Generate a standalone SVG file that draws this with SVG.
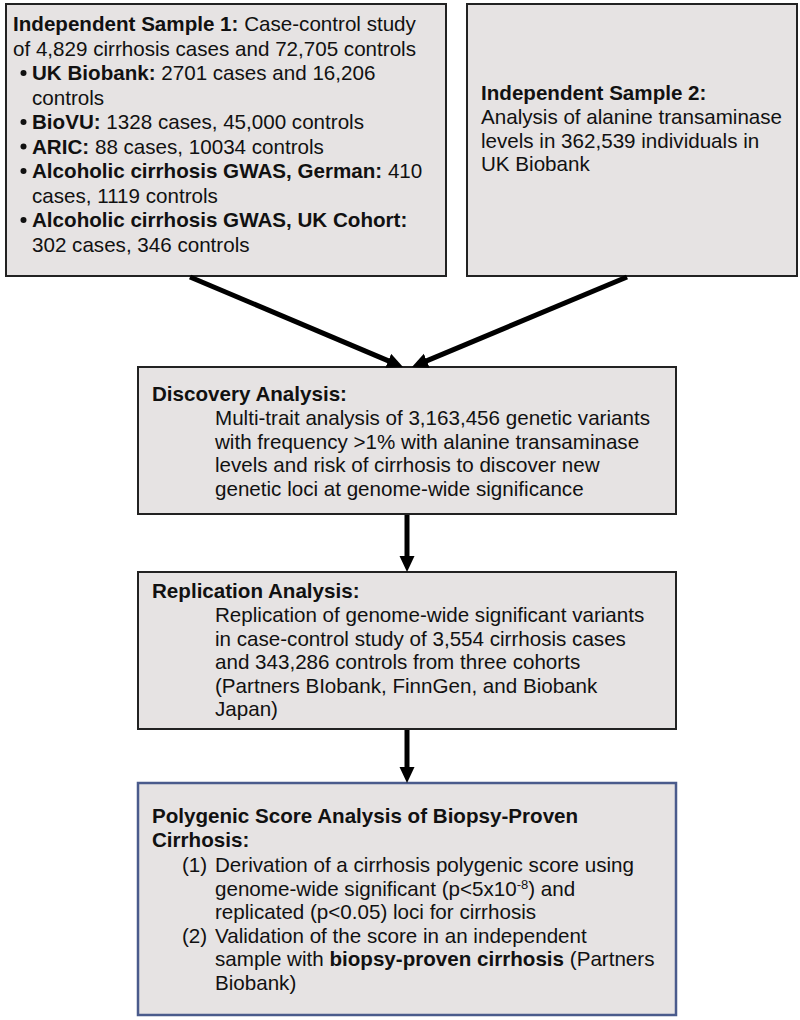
<svg xmlns="http://www.w3.org/2000/svg" width="800" height="1020" viewBox="0 0 800 1020">
<style>
.box{fill:#e6e3e3;stroke:#222;stroke-width:2}
.blue{fill:#e6e3e3;stroke:#4a5b8c;stroke-width:2.5}
text{font-family:"Liberation Sans",Arial,sans-serif;font-size:20.6px;fill:#111}
.b{font-weight:bold}
.arr{stroke:#000;stroke-width:5;fill:none}
</style>
<defs>
<marker id="ah" markerUnits="userSpaceOnUse" markerWidth="18" markerHeight="16" refX="6" refY="7.5" orient="auto">
<path d="M0,0 L16,7.5 L0,15 z" fill="#000"/>
</marker>
</defs>
<rect width="800" height="1020" fill="#fff"/>
<g id="sample1">
<rect class="box" x="6" y="4" width="440" height="272"/>
<text x="13" y="31"><tspan class="b">Independent Sample 1:</tspan> Case-control study</text>
<text x="13" y="55.5">of 4,829 cirrhosis cases and 72,705 controls</text>
<circle cx="23.5" cy="73" r="3" fill="#111"/>
<text x="32" y="80"><tspan class="b">UK Biobank:</tspan> 2701 cases and 16,206</text>
<text x="32" y="104.5">controls</text>
<circle cx="23.5" cy="122" r="3" fill="#111"/>
<text x="32" y="129"><tspan class="b">BioVU:</tspan> 1328 cases, 45,000 controls</text>
<circle cx="23.5" cy="146.5" r="3" fill="#111"/>
<text x="32" y="153.5"><tspan class="b">ARIC:</tspan> 88 cases, 10034 controls</text>
<circle cx="23.5" cy="171" r="3" fill="#111"/>
<text x="32" y="178"><tspan class="b">Alcoholic cirrhosis GWAS, German:</tspan> 410</text>
<text x="32" y="202.5">cases, 1119 controls</text>
<circle cx="23.5" cy="220" r="3" fill="#111"/>
<text x="32" y="227"><tspan class="b">Alcoholic cirrhosis GWAS, UK Cohort:</tspan></text>
<text x="32" y="251.5">302 cases, 346 controls</text>
</g>
<g id="sample2">
<rect class="box" x="467" y="4" width="330" height="272"/>
<text x="481" y="100" class="b">Independent Sample 2:</text>
<text x="481" y="124">Analysis of alanine transaminase</text>
<text x="481" y="147.5">levels in 362,539 individuals in</text>
<text x="481" y="171">UK Biobank</text>
</g>
<g id="discovery">
<rect class="box" x="138" y="367" width="538" height="147"/>
<text x="152" y="401" class="b">Discovery Analysis:</text>
<text x="215" y="425">Multi-trait analysis of 3,163,456 genetic variants</text>
<text x="215" y="448.5">with frequency &gt;1% with alanine transaminase</text>
<text x="215" y="472">levels and risk of cirrhosis to discover new</text>
<text x="215" y="496">genetic loci at genome-wide significance</text>
</g>
<g id="replication">
<rect class="box" x="138" y="572" width="538" height="157"/>
<text x="152" y="598" class="b">Replication Analysis:</text>
<text x="215" y="622">Replication of genome-wide significant variants</text>
<text x="215" y="645.5">in case-control study of 3,554 cirrhosis cases</text>
<text x="215" y="669">and 343,286 controls from three cohorts</text>
<text x="215" y="692.5">(Partners BIobank, FinnGen, and Biobank</text>
<text x="215" y="716">Japan)</text>
</g>
<g id="polygenic">
<rect class="blue" x="138" y="783" width="538" height="232"/>
<text x="152" y="823" class="b">Polygenic Score Analysis of Biopsy-Proven</text>
<text x="152" y="847" class="b">Cirrhosis:</text>
<text x="182" y="872">(1)</text>
<text x="215" y="872">Derivation of a cirrhosis polygenic score using</text>
<text x="215" y="895.5">genome-wide significant (p&lt;5x10<tspan dy="-7" font-size="13">-8</tspan><tspan dy="7">) and</tspan></text>
<text x="215" y="919">replicated (p&lt;0.05) loci for cirrhosis</text>
<text x="182" y="942.5">(2)</text>
<text x="215" y="942.5">Validation of the score in an independent</text>
<text x="215" y="966">sample with <tspan class="b">biopsy-proven cirrhosis</tspan> (Partners</text>
<text x="215" y="989.5">Biobank)</text>
</g>
<g id="connectors">
<path class="arr" d="M190,277 L393.8,363.1" marker-end="url(#ah)"/>
<path class="arr" d="M627,277 L421.2,363.1" marker-end="url(#ah)"/>
<path class="arr" d="M407,515 L407,562" marker-end="url(#ah)"/>
<path class="arr" d="M407,730 L407,773" marker-end="url(#ah)"/>
</g>
</svg>
